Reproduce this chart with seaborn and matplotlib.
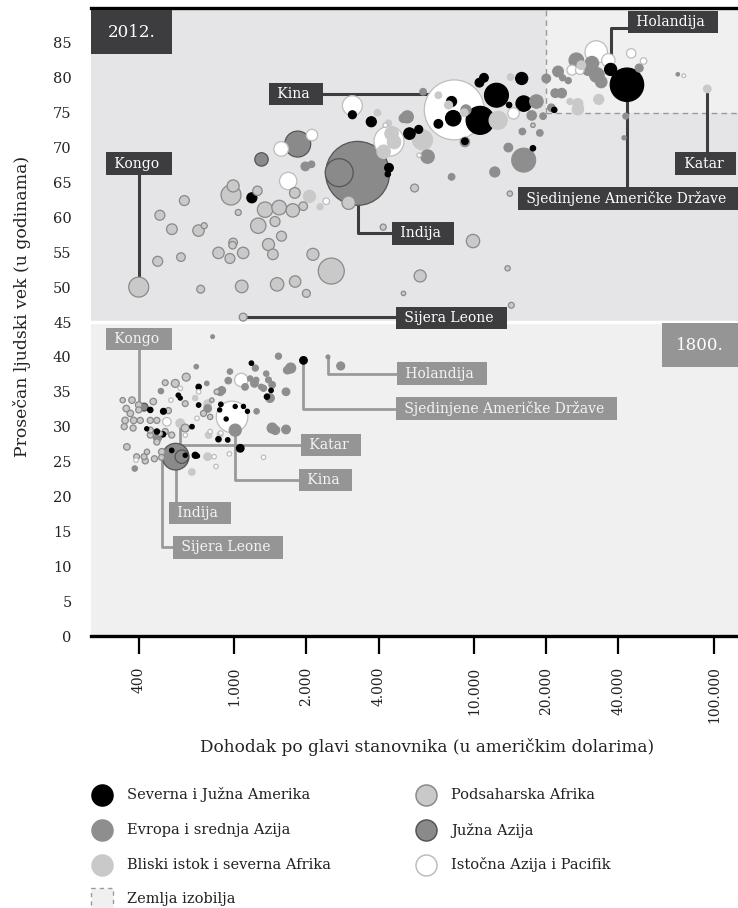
import pandas as pd
import matplotlib
matplotlib.use('Agg')
import matplotlib.pyplot as plt
import seaborn as sns
from matplotlib.patches import Rectangle
from matplotlib.ticker import NullLocator

# regije: AM = Amerika, EU = Evropa i sr. Azija, ME = Bliski istok, AF = Podsaharska Afrika,
# SA = Južna Azija, EA = Istočna Azija i Pacifik
region_names = {'AM': 'Severna i Južna Amerika', 'EU': 'Evropa i srednja Azija',
                'ME': 'Bliski istok i severna Afrika', 'AF': 'Podsaharska Afrika',
                'SA': 'Južna Azija', 'EA': 'Istočna Azija i Pacifik'}
face = {'AM': '#000000', 'EU': '#8e8e8e', 'ME': '#c9c9c9', 'AF': '#c9c9c9', 'SA': '#8a8a8a', 'EA': '#ffffff'}
edge = {'AM': '#000000', 'EU': '#8e8e8e', 'ME': '#c9c9c9', 'AF': '#8a8a8a', 'SA': '#555555', 'EA': '#bdbdbd'}

# 2012. godina (dohodak u USD, očekivani životni vek, stanovništvo u milionima, regija)
inc_2012 = [400, 490, 620, 550, 710, 750, 480, 600, 725, 970, 990, 1040, 1250, 1345, 1540, 1755, 1940, 1790,
            1260, 1480, 1575, 990, 985, 860, 960, 1090, 1390, 1450, 2130, 1075, 1510, 1795, 2000, 1090, 2540,
            3000, 4180, 5650, 14100, 9900, 5960, 5080, 13800, 14300, 17600,
            2060, 2280, 3960, 4530, 4640, 4200, 14200, 12600, 7830, 7100, 6100, 4400, 25100, 27100, 27100,
            33100, 28000, 93800, 9100,
            1980, 2100, 5270, 9250, 6130, 18200, 17400, 19400, 18800, 15900, 13900, 16100, 12200, 20000, 9160,
            6400, 8060, 5080, 21000, 22400, 23400, 24700, 23200, 26700, 31000, 30000, 32500, 33900, 48800,
            42900, 42200, 70700, 21800,
            1185, 3110, 3730, 5380, 5880, 4420, 4370, 12400, 10600, 8190, 8060, 7100, 10530, 11000, 15800,
            16100, 14000, 17600, 9160, 21600, 37100, 43400,
            1840, 1300, 3270, 2740,
            1680, 1570, 2110, 2420, 3110, 4420, 8270, 14600, 4270, 5900, 25600, 27600, 32300, 36300, 45200,
            50900, 74900]
life_2012 = [50.0, 60.3, 62.4, 58.3, 58.1, 58.8, 53.7, 54.3, 49.7, 63.2, 64.5, 60.7, 63.8, 61.1, 61.4, 61.0, 61.6,
             63.5, 58.8, 59.4, 57.3, 56.4, 56.0, 54.9, 54.1, 54.9, 56.1, 54.7, 54.7, 50.1, 50.4, 50.8, 49.1, 45.7,
             52.3, 62.1, 58.6, 64.2, 63.4, 56.6, 51.6, 49.1, 52.7, 47.4, 73.2,
             63.0, 61.5, 75.0, 72.0, 70.8, 69.4, 80.1, 73.9, 76.1, 77.5, 71.1, 73.5, 76.6, 76.3, 75.5, 76.9, 81.8,
             78.4, 75.0,
             67.3, 67.6, 74.4, 75.4, 78.0, 76.6, 74.6, 74.5, 72.1, 72.3, 70.0, 68.2, 66.5, 79.9, 70.8, 68.7, 65.8,
             74.2, 75.7, 80.9, 80.0, 79.6, 77.8, 82.5, 82.1, 81.3, 80.4, 79.4, 81.4, 74.5, 71.4, 80.5, 77.8,
             62.8, 74.7, 73.7, 72.0, 72.6, 67.1, 66.2, 77.5, 73.9, 74.2, 76.6, 73.4, 79.3, 80.0, 79.9, 76.3, 76.1,
             69.9, 70.9, 75.4, 81.2, 79.0,
             70.5, 68.3, 66.3, 66.4,
             65.2, 69.8, 71.8, 62.3, 76.0, 70.9, 75.4, 74.9, 73.2, 68.9, 81.1, 81.1, 83.7, 82.5, 83.5, 82.4, 80.3]
pop_2012 = [140, 35, 35, 40, 46, 13, 35, 26, 22, 140, 51, 13, 31, 83, 75, 63, 26, 40, 83, 35, 35, 26, 20, 46, 35,
            46, 51, 40, 51, 56, 63, 46, 22, 22, 237, 63, 13, 22, 10, 63, 51, 7, 10, 12, 7,
            51, 13, 15, 63, 63, 63, 15, 114, 22, 15, 140, 13, 13, 35, 46, 35, 26, 20, 20,
            26, 15, 51, 35, 15, 63, 31, 15, 15, 15, 26, 200, 35, 26, 31, 63, 15, 26, 20, 40, 13, 13, 31, 75,
            63, 63, 75, 46, 22, 12, 6, 4, 26,
            35, 22, 35, 46, 22, 26, 10, 200, 275, 83, 35, 26, 26, 26, 51, 83, 10, 10, 15, 10, 51, 392,
            237, 63, 1438, 275,
            106, 75, 46, 15, 140, 316, 1264, 46, 7, 7, 35, 26, 176, 63, 31, 15, 5]
reg_2012 = ['AF'] * 45 + ['ME'] * 19 + ['EU'] * 33 + ['AM'] * 22 + ['SA'] * 4 + ['EA'] * 17

# 1800. godina
inc_1800 = [343, 375, 355, 369, 400, 400, 351, 381, 406, 348, 379, 460, 532, 447, 476, 447, 516, 549, 447, 476,
            499, 498, 433, 392, 421, 357, 625, 568, 631, 516, 625, 846, 745, 794, 807, 426, 465, 490,
            483, 385, 495, 695, 813, 1530, 2460, 2780, 1720, 1665, 1645, 1410, 1360, 1390, 1440, 1325, 1215,
            1110, 1225, 960, 945, 875, 1645, 1440, 1485, 1240, 1010, 888, 775, 769, 476, 1235, 1166, 1296,
            447, 507, 476, 585, 711, 711, 667, 549, 688, 1060, 1945, 1425, 1370, 1180, 880, 940, 860, 505,
            432, 596, 1010, 1093, 1136, 926, 870, 625, 703,
            596, 688, 775, 775, 666, 782, 874,
            390, 524, 596, 545, 711, 700, 625, 825, 840, 955, 1325, 880, 1070, 980, 794,
            570, 605, 421]
life_1800 = [33.8, 33.8, 32.6, 31.9, 33.1, 32.4, 30.9, 30.9, 30.9, 30.0, 29.8, 33.6, 32.3, 30.9, 30.9, 29.5, 29.3,
             28.8, 28.8, 27.8, 26.4, 25.6, 26.4, 25.7, 25.7, 27.1, 29.8, 36.2, 37.1, 36.3, 33.3, 35.0, 31.9, 31.4,
             33.8, 25.1, 25.4, 29.0,
             28.4, 24.0, 35.1, 38.6, 42.9, 40.1, 40.0, 38.7, 38.4, 38.1, 35.0, 34.1, 37.6, 36.7, 36.0, 35.5, 36.2,
             35.7, 38.4, 37.9, 36.6, 35.0, 29.6, 29.8, 29.5, 32.2, 29.5, 35.2, 32.6, 36.2, 28.5, 36.7, 36.9, 35.7,
             32.4, 32.2, 29.3, 34.5, 35.7, 33.1, 30.0, 26.6, 25.9, 26.9, 39.5, 35.2, 34.3, 39.1, 33.2, 28.1, 28.2,
             28.9, 29.7, 34.1, 32.9, 32.9, 32.2, 31.1, 32.4, 25.9, 25.8,
             30.5, 34.1, 33.3, 25.7, 23.5, 28.8, 28.9,
             25.2, 30.7, 35.5, 33.8, 35.0, 31.2, 28.8, 25.7, 24.3, 26.1, 25.6, 29.1, 36.7, 31.4, 29.3,
             25.7, 25.7, 32.8]
pop_1800 = [10, 15, 15, 15, 15, 13, 15, 15, 13, 13, 13, 15, 13, 13, 13, 13, 13, 13, 13, 13, 15, 12, 10, 12, 12,
            15, 22, 22, 22, 12, 12, 10, 13, 10, 7, 13, 13, 10,
            15, 10, 10, 7, 5, 13, 5, 22, 35, 20, 20, 26, 10, 12, 15, 13, 20, 15, 13, 10, 15, 20, 26, 35, 26,
            10, 51, 20, 20, 7, 20, 10, 10, 10,
            10, 12, 10, 7, 10, 7, 7, 7, 13, 20, 20, 7, 10, 7, 7, 7, 10, 10, 6, 6, 6, 6, 6, 6, 6, 6, 6,
            26, 10, 20, 20, 15, 15, 12,
            7, 26, 7, 7, 7, 7, 7, 7, 7, 7, 7, 7, 63, 350, 7,
            250, 63, 22]
reg_1800 = ['AF'] * 38 + ['EU'] * 34 + ['AM'] * 27 + ['ME'] * 7 + ['EA'] * 15 + ['SA'] * 3

xticks = [400, 1000, 2000, 4000, 10000, 20000, 40000, 100000]
xtick_labels = ['400', '1.000', '2.000', '4.000', '10.000', '20.000', '40.000', '100.000']
yticks = list(range(0, 90, 5))

# oznake zemalja: tekst, mesto natpisa, linija do tačke
labels_2012 = [
    ('Kina', (1813, 77.7), [(1813, 77.7), (8270, 77.7)]),
    ('Kongo', (400, 67.7), [(400, 67.7), (400, 50.0)]),
    ('Indija', (6100, 57.7), [(3270, 66.3), (3270, 57.7), (6100, 57.7)]),
    ('Sijera Leone', (8060, 45.6), [(1090, 45.7), (8060, 45.7)]),
    ('Holandija', (67500, 88.0), [(67500, 87.2), (37100, 87.2), (37100, 81.2)]),
    ('Katar', (92600, 67.7), [(93800, 78.4), (93800, 67.7)]),
    ('Sjedinjene Američke Države', (44000, 62.7), [(43400, 79.0), (43400, 62.7)]),
]
labels_1800 = [
    ('Kongo', (400, 42.6), [(400, 42.6), (400, 33.1)]),
    ('Holandija', (7330, 37.6), [(2460, 40.0), (2460, 37.6), (7330, 37.6)]),
    ('Sjedinjene Američke Države', (13650, 32.6), [(1945, 39.5), (1945, 32.6), (13650, 32.6)]),
    ('Katar', (2535, 27.4), [(596, 30.5), (596, 27.4), (2535, 27.4)]),
    ('Kina', (2405, 22.4), [(1010, 29.5), (1010, 22.4), (2405, 22.4)]),
    ('Indija', (718, 17.6), [(570, 25.7), (570, 17.6)]),
    ('Sijera Leone', (944, 12.7), [(498, 25.6), (498, 12.7), (944, 12.7)]),
]

df12 = pd.DataFrame({'dohodak': inc_2012, 'vek': life_2012, 'pop': pop_2012, 'regija': reg_2012})
df18 = pd.DataFrame({'dohodak': inc_1800, 'vek': life_1800, 'pop': pop_1800, 'regija': reg_1800})
df = pd.concat([df12, df18]).sort_values('pop', ascending=False).reset_index(drop=True)

sns.set_style('white')
plt.rcParams['font.family'] = ['DejaVu Serif']

fig = plt.figure(figsize=(7.38, 9.08), dpi=100)
ax = fig.add_axes([91 / 738, 1 - 636 / 908, 647 / 738, 628 / 908])

# pozadina: 1800 dole, 2012 gore, zemlja izobilja
ax.set_facecolor('#f0f0f0')
ax.axhspan(45, 90, color='#e5e5e7', lw=0, zorder=0)
ax.add_patch(Rectangle((20000, 75), 200000, 20, fc='#f0f0f0', ec='none', zorder=0.2))
ax.plot([20000, 20000], [75, 90], ls=(0, (4, 3)), color='#9a9a9a', lw=1, zorder=0.3)
ax.plot([20000, 200000], [75, 75], ls=(0, (4, 3)), color='#9a9a9a', lw=1, zorder=0.3)
ax.axhline(45, color='white', lw=2.5, zorder=0.4)

# linije do oznaka
for name, xy, path in labels_2012:
    ax.plot([p[0] for p in path], [p[1] for p in path], color='#3d3d3f', lw=2.2, zorder=1, solid_capstyle='butt')
for name, xy, path in labels_1800:
    ax.plot([p[0] for p in path], [p[1] for p in path], color='#9a9a9a', lw=2.0, zorder=1, solid_capstyle='butt')

pmax = 1500
sns.scatterplot(data=df, x='dohodak', y='vek', hue='regija', palette=face, size='pop',
                sizes=(0, 1.474 * pmax), size_norm=(0, pmax), linewidth=0.9, legend=False, zorder=2, ax=ax)
pts = ax.collections[-1]
pts.set_edgecolors(df['regija'].map(edge).tolist())

for name, xy, path in labels_2012:
    ax.text(xy[0], xy[1], ' ' + name + '  ', color='white', fontsize=10, ha='center', va='center', zorder=5,
            bbox=dict(boxstyle='square,pad=0.3', fc='#3d3d3f', ec='none'))
for name, xy, path in labels_1800:
    ax.text(xy[0], xy[1], ' ' + name + '  ', color='#f4f4f4', fontsize=10, ha='center', va='center', zorder=5,
            bbox=dict(boxstyle='square,pad=0.3', fc='#959595', ec='none'))

# godine
ax.add_patch(Rectangle((253, 83.4), 549 - 253, 6.3, fc='#3d3d3f', ec='none', zorder=5))
ax.text(372.7, 86.55, '2012.', color='white', fontsize=12, ha='center', va='center', zorder=6)
ax.add_patch(Rectangle((60700, 38.5), 126000 - 60700, 6.3, fc='#959595', ec='none', zorder=5))
ax.text(87450, 41.65, '1800.', color='white', fontsize=12, ha='center', va='center', zorder=6)

ax.set_xscale('log')
ax.set_xlim(253, 126000)
ax.set_ylim(0, 90)
ax.set_xticks(xticks)
ax.set_xticklabels(xtick_labels, rotation=90)
ax.xaxis.set_minor_locator(NullLocator())
ax.set_yticks(yticks)
ax.tick_params(axis='x', length=13, width=1.6, color='black', pad=9, labelsize=10, labelcolor='#222222',
               direction='out', bottom=True)
ax.tick_params(axis='y', length=0, pad=14, labelsize=10.5, labelcolor='#222222')
for s in ['left', 'right']:
    ax.spines[s].set_visible(False)
for s in ['top', 'bottom']:
    ax.spines[s].set_linewidth(2.4)
    ax.spines[s].set_color('black')

ax.set_xlabel('Dohodak po glavi stanovnika (u američkim dolarima)', fontsize=12.2, color='#222222')
ax.set_ylabel('Prosečan ljudski vek (u godinama)', fontsize=12.4, color='#222222')
ax.xaxis.set_label_coords(0.519, -0.162)
ax.yaxis.set_label_coords(-0.092, 0.524)

# legenda (u pikselima)
lax = fig.add_axes([0, 0, 1, 1], facecolor='none')
lax.set_xlim(0, 738)
lax.set_ylim(908, 0)
lax.axis('off')
leg_items = [('AM', 102, 795), ('EU', 102, 830), ('ME', 102, 865),
             ('AF', 426, 795), ('SA', 426, 830), ('EA', 426, 865)]
for code, lx, ly in leg_items:
    lax.scatter([lx], [ly], s=(21 * 0.72) ** 2, c=face[code], edgecolors=edge[code], linewidths=1.1)
    lax.text(lx + 25, ly, region_names[code], fontsize=10.5, va='center', color='#222222')
lax.add_patch(Rectangle((91, 888), 22, 24, fc='#f0f0f0', ec='#9a9a9a', ls=(0, (3, 3)), lw=1))
lax.text(127, 899, 'Zemlja izobilja', fontsize=10.5, va='center', color='#222222')

fig.savefig('out.png', dpi=100)
